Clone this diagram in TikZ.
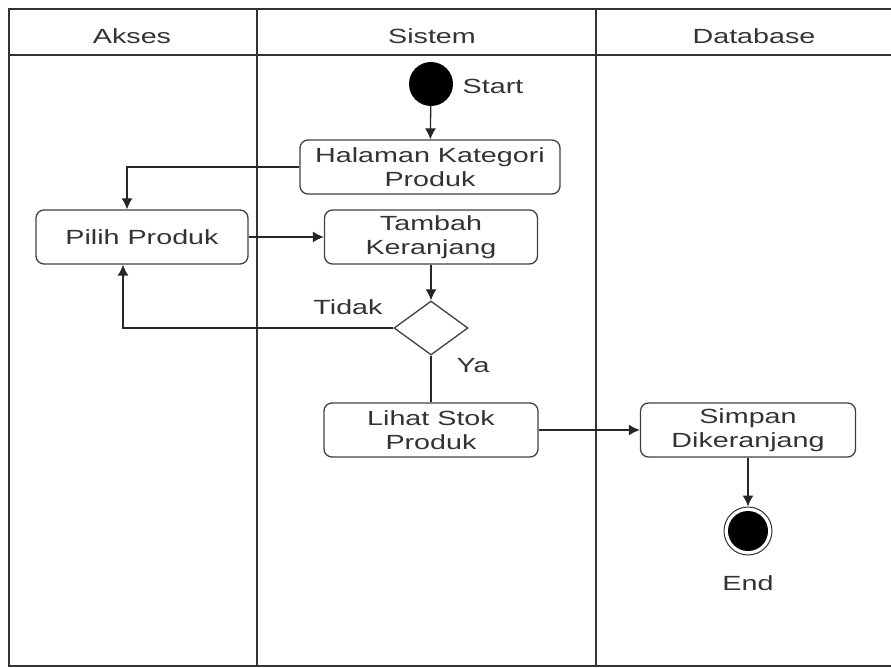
\documentclass[tikz,border=0pt]{standalone}
\usepackage{fontspec}
\setmainfont{Liberation Sans}[FakeStretch=1.4]
\usetikzlibrary{shapes.geometric, arrows.meta}

\begin{document}
\begin{tikzpicture}[x=1pt, y=-1pt, every node/.style={font=\fontsize{20.5}{24}\selectfont, text=black!80},
	box/.style={draw=black!75, line width=1.3pt, rounded corners=8pt, minimum height=54pt, align=center, inner sep=2pt},
	lane/.style={draw=black!80, line width=1.8pt},
	flow/.style={draw=black!85, line width=1.3pt, -{Latex[length=11pt, width=11pt]}}]
				\useasboundingbox (0,0) rectangle (891,668);
				
				% swimlanes
				\path[lane] (891,9) -- (9,9) -- (9,666) -- (891,666);
				\path[lane] (9,55) -- (891,55);
				\path[lane] (257,9) -- (257,666);
				\path[lane] (596,9) -- (596,666);
				\node (akses) at (132,36){Akses};
				\node (sistem) at (432,36){Sistem};
				\node (db) at (754,36){Database};
				
				\node[circle, fill=black, minimum size=44pt, inner sep=0pt] (start) at (431,84){};
				\node (startlbl) at (493,86){Start};
				\node[box, minimum width=260pt] (hal) at (430,167){Halaman Kategori\\Produk};
				\node[box, minimum width=212pt] (pilih) at (142,237){Pilih Produk};
				\node[box, minimum width=213pt] (tambah) at (431,237){Tambah\\Keranjang};
				\node[diamond, draw=black!75, line width=1.3pt, minimum width=74pt, minimum height=54pt, inner sep=0pt] (cek) at (431,328){};
				\node (tidak) at (348,307){Tidak};
				\node (ya) at (473,366){Ya};
				\node[box, minimum width=214pt] (lihat) at (431,430){Lihat Stok\\Produk};
				\node[box, minimum width=215pt] (simpan) at (748,430){Simpan\\Dikeranjang};
				\node[circle, draw=black!80, line width=1pt, minimum size=48pt, inner sep=0pt] (end) at (748,531){};
				\node[circle, fill=black, minimum size=40pt, inner sep=0pt] (endin) at (748,531){};
				\node (endlbl) at (748,583){End};
				
				\path[flow] (start) -- (hal);
				\path[flow] (hal.west) -| ([xshift=-15pt]pilih.north);
				\path[flow] (pilih) -- (tambah);
				\path[flow] (tambah) -- (cek);
				\path[flow] (cek.west) -| ([xshift=-19pt]pilih.south);
				\path[flow, -] (cek) -- (lihat);
				\path[flow] (lihat) -- (simpan);
				\path[flow] (simpan) -- (end);
\end{tikzpicture}
\end{document}
